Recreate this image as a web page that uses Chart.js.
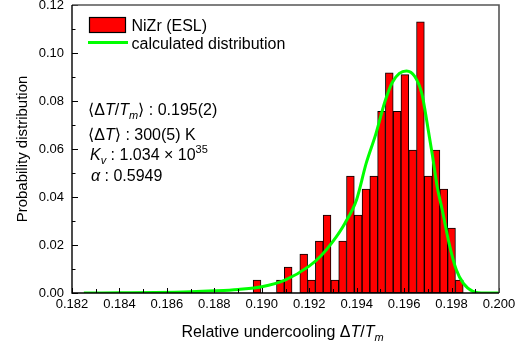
<!DOCTYPE html>
<html>
<head>
<meta charset="utf-8">
<script src="https://cdn.jsdelivr.net/npm/chart.js@4/dist/chart.umd.min.js"></script>
<style>
  html, body { margin: 0; padding: 0; background: #ffffff; }
  #wrap { width: 528px; height: 348px; position: relative; }
</style>
</head>
<body>
<div id="wrap"><canvas id="chart" width="528" height="348"></canvas></div>
<script>
// Histogram bins (bin centres, relative undercooling) and their probabilities
const binCenters = [
  0.189800, 0.190784, 0.191112, 0.191768, 0.192096, 0.192424, 0.192752, 0.193080,
  0.193408, 0.193736, 0.194064, 0.194392, 0.194720, 0.195048, 0.195376, 0.195704,
  0.196032, 0.196360, 0.196688, 0.197016, 0.197344, 0.197672, 0.198000, 0.198328
];
const binProbabilities = [
  0.0054, 0.0054, 0.0108, 0.0162, 0.0054, 0.0216, 0.0325, 0.0054,
  0.0216, 0.0487, 0.0325, 0.0433, 0.0487, 0.0757, 0.0917, 0.0757,
  0.0910, 0.0595, 0.1130, 0.0487, 0.0595, 0.0433, 0.0271, 0.0054
];

// Calculated distribution curve
const curveX = [
  0.1825, 0.1840, 0.1855, 0.1870, 0.1880, 0.1890, 0.1900, 0.1910, 0.1920, 0.1925,
  0.1930, 0.1935, 0.1940, 0.1944, 0.1948, 0.1952, 0.1955, 0.1958, 0.1961, 0.19645,
  0.19675, 0.1970, 0.1972, 0.1974, 0.1976, 0.1979, 0.1982, 0.1985, 0.1989, 0.1994, 0.2000
];
const curveY = [
  0.0000, 0.0001, 0.0002, 0.0005, 0.0009, 0.0015, 0.0026, 0.0055, 0.0112, 0.0155,
  0.0215, 0.0290, 0.0390, 0.0540, 0.0660, 0.0800, 0.0877, 0.0915, 0.0925, 0.0902,
  0.0830, 0.0690, 0.0570, 0.0440, 0.0350, 0.0205, 0.0097, 0.0040, 0.0007, 0.0000, 0.0000
];

// Axis ticks
const xTickValues = [0.182, 0.184, 0.186, 0.188, 0.190, 0.192, 0.194, 0.196, 0.198, 0.200];
const yTickValues = [0.00, 0.02, 0.04, 0.06, 0.08, 0.10, 0.12];
const xTickLabels = ['0.182', '0.184', '0.186', '0.188', '0.190', '0.192', '0.194', '0.196', '0.198', '0.200'];
const yTickLabels = ['0.00', '0.02', '0.04', '0.06', '0.08', '0.10', '0.12'];

const seriesNames = ['NiZr (ESL)', 'calculated distribution'];
const yTitle = 'Probability distribution';

const FAMILY = "'Liberation Sans', Arial, 'DejaVu Sans', sans-serif";
const BAR_FILL = '#ff0000';
const CURVE_COLOR = '#00ff00';

// Draws a run of text pieces with italic / subscript / superscript styling
function drawRich(ctx, x, y, parts, size, align) {
  const fontFor = p => {
    const s = (p.sub || p.sup) ? Math.round(size * 0.66) : size;
    return (p.i ? 'italic ' : '') + s + 'px ' + FAMILY;
  };
  let total = 0;
  parts.forEach(p => { ctx.font = fontFor(p); p.w = ctx.measureText(p.t).width; total += p.w; });
  let cx = align === 'center' ? x - total / 2 : x;
  ctx.textAlign = 'left';
  ctx.textBaseline = 'alphabetic';
  parts.forEach(p => {
    ctx.font = fontFor(p);
    const dy = p.sub ? size * 0.28 : (p.sup ? -size * 0.42 : 0);
    ctx.fillText(p.t, cx, y + dy);
    cx += p.w;
  });
}

const decorations = {
  id: 'decorations',
  afterDraw(chart) {
    const { ctx, chartArea: a, scales } = chart;
    const xs = scales.x, ys = scales.y;
    ctx.save();

    // inward tick marks (major + minor)
    ctx.strokeStyle = '#000';
    ctx.lineWidth = 1;
    ctx.beginPath();
    xTickValues.forEach((v, i) => {
      const px = Math.round(xs.getPixelForValue(v)) + 0.5;
      ctx.moveTo(px, a.bottom); ctx.lineTo(px, a.bottom - 5);
      if (i < xTickValues.length - 1) {
        const mx = Math.round(xs.getPixelForValue((v + xTickValues[i + 1]) / 2)) + 0.5;
        ctx.moveTo(mx, a.bottom); ctx.lineTo(mx, a.bottom - 4);
      }
    });
    yTickValues.forEach((v, i) => {
      const py = Math.round(ys.getPixelForValue(v)) + 0.5;
      ctx.moveTo(a.left, py); ctx.lineTo(a.left + 6, py);
      if (i < yTickValues.length - 1) {
        const my = Math.round(ys.getPixelForValue((v + yTickValues[i + 1]) / 2)) + 0.5;
        ctx.moveTo(a.left, my); ctx.lineTo(a.left + 3.5, my);
      }
    });
    ctx.stroke();

    // frame
    ctx.strokeStyle = '#555';
    ctx.lineWidth = 1.6;
    ctx.beginPath();
    ctx.moveTo(a.left, a.top); ctx.lineTo(a.right, a.top); ctx.lineTo(a.right, a.bottom);
    ctx.stroke();
    ctx.strokeStyle = '#000';
    ctx.lineWidth = 1.4;
    ctx.beginPath();
    ctx.moveTo(a.left, a.top); ctx.lineTo(a.left, a.bottom); ctx.lineTo(a.right, a.bottom);
    ctx.stroke();

    // legend
    const bars = chart.data.datasets[1], curve = chart.data.datasets[0];
    ctx.fillStyle = bars.backgroundColor;
    ctx.fillRect(89.5, 17.5, 36, 15);
    ctx.strokeStyle = '#000';
    ctx.lineWidth = 1.2;
    ctx.strokeRect(89.5, 17.5, 36, 15);
    ctx.strokeStyle = curve.borderColor;
    ctx.lineWidth = 3;
    ctx.beginPath(); ctx.moveTo(88, 42.5); ctx.lineTo(128, 42.5); ctx.stroke();
    ctx.fillStyle = '#000';
    ctx.font = '16px ' + FAMILY;
    ctx.textAlign = 'left';
    ctx.textBaseline = 'alphabetic';
    ctx.fillText(bars.label, 131.5, 31);
    ctx.fillText(curve.label, 131.5, 48.5);

    // fit parameters
    drawRich(ctx, 88, 115, [
      { t: '\u27E8\u0394' }, { t: 'T', i: true }, { t: '/' }, { t: 'T', i: true },
      { t: 'm', i: true, sub: true }, { t: '\u27E9 : 0.195(2)' }
    ], 16);
    drawRich(ctx, 88, 140, [
      { t: '\u27E8\u0394' }, { t: 'T', i: true }, { t: '\u27E9 : 300(5) K' }
    ], 16);
    drawRich(ctx, 90, 160, [
      { t: 'K', i: true }, { t: 'v', i: true, sub: true }, { t: ' : 1.034 \u00D7 10' }, { t: '35', sup: true }
    ], 16);
    drawRich(ctx, 91, 181, [
      { t: '\u03B1', i: true }, { t: ' : 0.5949' }
    ], 16);

    // x-axis title
    drawRich(ctx, (a.left + a.right) / 2 - 3, 337, [
      { t: 'Relative undercooling \u0394' }, { t: 'T', i: true }, { t: '/' }, { t: 'T', i: true },
      { t: 'm', i: true, sub: true }
    ], 16, 'center');

    ctx.restore();
  }
};

new Chart(document.getElementById('chart'), {
  type: 'bar',
  data: {
    datasets: [
      {
        type: 'line',
        label: seriesNames[1],
        data: curveX.map((x, i) => ({ x, y: curveY[i] })),
        borderColor: CURVE_COLOR,
        borderWidth: 3,
        pointRadius: 0,
        fill: false,
        cubicInterpolationMode: 'monotone',
        order: 0
      },
      {
        type: 'bar',
        label: seriesNames[0],
        data: binCenters.map((x, i) => ({ x, y: binProbabilities[i] })),
        backgroundColor: BAR_FILL,
        borderColor: '#000',
        borderWidth: 1,
        borderSkipped: false,
        barPercentage: 1,
        categoryPercentage: 1,
        order: 1
      }
    ]
  },
  options: {
    responsive: false,
    animation: false,
    events: [],
    layout: { padding: { top: 5, right: 29, left: 0, bottom: 0 } },
    plugins: { legend: { display: false }, tooltip: { enabled: false } },
    scales: {
      x: {
        type: 'linear',
        min: 0.182,
        max: 0.200,
        offset: false,
        grid: { display: false, drawTicks: false },
        border: { display: false },
        afterBuildTicks: s => { s.ticks = xTickValues.map(v => ({ value: v })); },
        ticks: {
          padding: 4, color: '#000', autoSkip: false, maxRotation: 0,
          font: { family: FAMILY, size: 13 },
          callback: (v, i) => xTickLabels[i]
        },
        afterFit: s => { s.height = 55; s.paddingLeft = 0; s.paddingRight = 0; }
      },
      y: {
        min: 0,
        max: 0.12,
        grid: { display: false, drawTicks: false },
        border: { display: false },
        afterBuildTicks: s => { s.ticks = yTickValues.map(v => ({ value: v })); },
        ticks: {
          padding: 8, color: '#000',
          font: { family: FAMILY, size: 13 },
          callback: (v, i) => yTickLabels[i]
        },
        title: {
          display: true, text: yTitle, color: '#000',
          font: { family: FAMILY, size: 15 },
          padding: { top: 14, bottom: 0 }
        },
        afterFit: s => { s.width = 72; s.paddingTop = 0; s.paddingBottom = 0; }
      }
    }
  },
  plugins: [decorations]
});
</script>
</body>
</html>
